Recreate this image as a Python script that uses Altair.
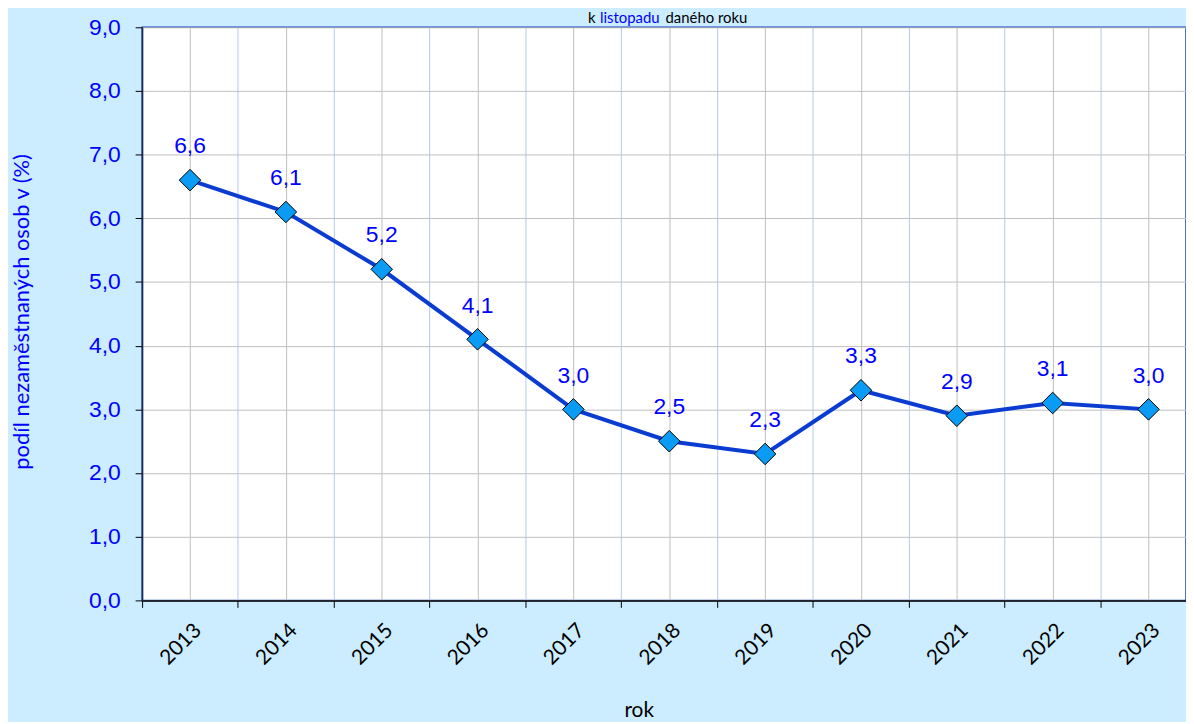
import altair as alt
import pandas as pd

# ---- data ----
years = [2013, 2014, 2015, 2016, 2017, 2018, 2019, 2020, 2021, 2022, 2023]
values = [6.6, 6.1, 5.2, 4.1, 3.0, 2.5, 2.3, 3.3, 2.9, 3.1, 3.0]
band_edges = [2012.5 + i for i in range(12)]
y_ticks = [0, 1, 2, 3, 4, 5, 6, 7, 8, 9]
title_parts = ["k", "listopadu", "daného roku"]
title_colors = ["black", "#0000FF", "black"]

# ---- layout ----
PLOT_W = 1051
PLOT_H = 577
STEP = 96.5
x_max = 2012.5 + PLOT_W / STEP

df = pd.DataFrame({"year": years, "value": values})

xscale = alt.Scale(domain=[2012.5, x_max], nice=False, zero=False)
yscale = alt.Scale(domain=[0, 9], nice=False, zero=True)

BLUE = "#0000FF"

y_axis = alt.Axis(
    values=y_ticks,
    labelExpr="replace(format(datum.value, '.1f'), '.', ',')",
    labelColor=BLUE, labelFont="Liberation Sans", labelFontSize=23,
    labelPadding=15, tickSize=7, tickColor="black", tickWidth=1,
    domainColor="#1C2B4A", domainWidth=1.5,
    grid=True, gridColor="#C0C0C0", gridWidth=1,
    title="podíl nezaměstnaných osob v (%)", titleColor=BLUE,
    titleFont="Lato", titleFontSize=22, titleFontWeight="normal",
    titleX=-121, titleY=286, titleAngle=-90, titleAlign="center",
    titleBaseline="middle",
)

x_axis_edges = alt.Axis(
    orient="bottom", values=band_edges, labels=False, ticks=True,
    tickSize=7, tickColor="black", tickWidth=1,
    grid=True, gridColor="#B4C8EC", gridWidth=1,
    domain=True, domainColor="black", domainWidth=1.5, title=None,
)

x_axis_years = alt.Axis(
    orient="bottom", values=years, format="d", labelAngle=-45,
    labelFont="Lato", labelFontSize=21, labelColor="black",
    labelPadding=19, ticks=False, grid=True, gridColor="#BDBDBD",
    gridWidth=1, domain=False,
    title="rok", titleFont="Lato", titleFontSize=21,
    titleFontWeight="normal", titleColor="black",
    titleX=500, titleY=117, titleBaseline="alphabetic", titleAlign="center",
)

line = alt.Chart(df).mark_line(color="#0A3CD2", strokeWidth=4).encode(
    x=alt.X("year:Q", scale=xscale, axis=x_axis_edges),
    y=alt.Y("value:Q", scale=yscale, axis=y_axis),
)

points = alt.Chart(df).mark_point(
    shape="diamond", filled=True, fill="#0A9BF5", stroke="black",
    strokeWidth=1, size=470, opacity=1,
).encode(
    x=alt.X("year:Q", scale=xscale, axis=x_axis_years),
    y=alt.Y("value:Q", scale=yscale, axis=y_axis),
)

labels = alt.Chart(df).transform_calculate(
    lab="replace(format(datum.value, '.1f'), '.', ',')"
).mark_text(
    font="Liberation Sans", fontSize=23, color=BLUE, dy=-27,
    baseline="alphabetic", align="center",
).encode(
    x=alt.X("year:Q", scale=xscale, axis=None),
    y=alt.Y("value:Q", scale=yscale, axis=y_axis),
    text="lab:N",
)

tdf = pd.DataFrame({"part": title_parts, "color": title_colors,
                    "sx": [449, 461, 527]})
title = alt.Chart(tdf).mark_text(
    font="Lato", fontSize=15, baseline="bottom", align="left",
).encode(
    x=alt.X("sx:Q", scale=None, axis=None),
    y=alt.value(-1.5),
    text="part:N",
    color=alt.Color("color:N", scale=None, legend=None),
)

chart = alt.layer(line, points, labels, title).resolve_axis(
    x="independent"
).resolve_scale(x="independent").properties(
    width=PLOT_W, height=PLOT_H,
    padding={"left": 135, "top": 17, "right": 0, "bottom": 120},
    autosize=alt.AutoSizeParams(type="none"),
    background="#CCECFF",
).configure_view(
    fill="white", stroke="#1040C0", strokeWidth=1.5,
)

chart.save("out.html", embed_options={"renderer": "svg", "actions": False})
